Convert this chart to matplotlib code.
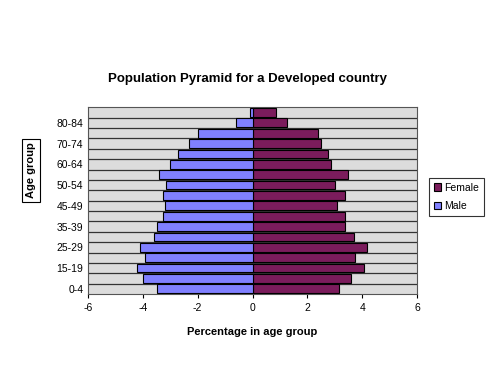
import numpy as np
import matplotlib.pyplot as plt

plt.rcParams['font.family'] = ['Liberation Sans', 'DejaVu Sans']
plt.rcParams['axes.unicode_minus'] = False

# bottom to top, 18 rows; Excel only shows every other label
age_labels = ["0-4", "", "15-19", "", "25-29", "", "35-39", "", "45-49", "",
              "50-54", "", "60-64", "", "70-74", "", "80-84", ""]
male = [-3.5, -4.0, -4.22, -3.92, -4.12, -3.6, -3.5, -3.28, -3.18, -3.28,
        -3.14, -3.4, -3.02, -2.7, -2.3, -2.0, -0.62, -0.1]
female = [3.16, 3.6, 4.07, 3.75, 4.19, 3.69, 3.37, 3.37, 3.08, 3.37,
          3.0, 3.48, 2.86, 2.76, 2.5, 2.39, 1.25, 0.85]

fig = plt.figure(figsize=(5, 3.75), dpi=100)
ax = fig.add_axes([0.176, 0.216, 0.658, 0.498])
ax.set_facecolor("#dcdcdc")

y = np.arange(len(age_labels))
ax.barh(y, female, height=0.85, color="#7b1c5c", edgecolor="black", linewidth=0.8, label="Female", zorder=3)
ax.barh(y, male, height=0.85, color="#8080ff", edgecolor="black", linewidth=0.8, label="Male", zorder=3)

for b in y[:-1] + 0.5:
    ax.axhline(b, color="#333333", linewidth=0.9, zorder=1)

ax.set_xlim(-6, 6)
ax.set_ylim(-0.5, len(age_labels) - 0.5)
ax.set_xticks(np.arange(-6, 7, 2))
ax.set_yticks(y)
ax.set_yticklabels(age_labels)
ax.tick_params(axis="both", labelsize=7.5, length=3)
ax.tick_params(axis="y", length=0)
for s in ax.spines.values():
    s.set_color("#555555")

fig.text(0.494, 0.79, "Population Pyramid for a Developed country", ha="center",
         va="center", fontsize=9.5, fontweight="bold")
ax.set_xlabel("Percentage in age group", fontsize=8, fontweight="bold", labelpad=10)
fig.text(0.062, 0.545, "Age group", rotation=90, ha="center", va="center",
         fontsize=8, fontweight="bold",
         bbox=dict(boxstyle="square,pad=0.35", facecolor="white", edgecolor="black", linewidth=0.8))

leg = ax.legend(loc="center left", bbox_to_anchor=(1.02, 0.52), fontsize=7.5,
                frameon=True, fancybox=False, edgecolor="black", handlelength=0.7,
                handleheight=0.7, handletextpad=0.3, borderpad=0.5, labelspacing=0.8)
leg.get_frame().set_linewidth(0.8)

fig.savefig("out.png", dpi=100)
